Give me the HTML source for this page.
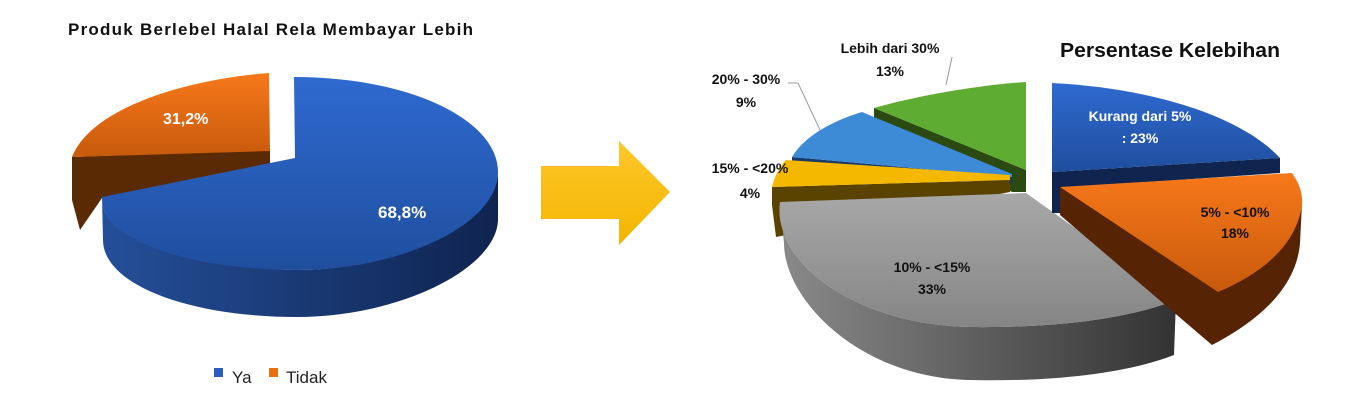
<!DOCTYPE html>
<html><head><meta charset="utf-8"><style>
html,body{margin:0;padding:0;background:#fff;overflow:hidden;}
svg{display:block;font-family:"Liberation Sans",sans-serif;}
</style></head><body>
<svg width="1365" height="416" viewBox="0 0 1365 416" xmlns="http://www.w3.org/2000/svg">
<defs>
<linearGradient id="bt" x1="0" y1="0" x2="0" y2="1"><stop offset="0" stop-color="#2f6ad0"/><stop offset="1" stop-color="#1f4e9e"/></linearGradient>
<linearGradient id="bs" x1="0" y1="0" x2="1" y2="0"><stop offset="0" stop-color="#244f99"/><stop offset="1" stop-color="#0f2450"/></linearGradient>
<linearGradient id="ot" x1="0" y1="0" x2="0" y2="1"><stop offset="0" stop-color="#f7781a"/><stop offset="1" stop-color="#c85a0c"/></linearGradient>
<linearGradient id="gt" x1="0" y1="0" x2="0" y2="1"><stop offset="0" stop-color="#a8a8a8"/><stop offset="1" stop-color="#858585"/></linearGradient>
<linearGradient id="gs" x1="0" y1="0" x2="1" y2="0"><stop offset="0" stop-color="#8a8a8a"/><stop offset="1" stop-color="#333"/></linearGradient>
<linearGradient id="ar" x1="0" y1="0" x2="0" y2="1"><stop offset="0" stop-color="#ffc72b"/><stop offset="1" stop-color="#f2b600"/></linearGradient>
</defs>

<text x="68" y="35" font-size="17" font-weight="bold" fill="#111" textLength="405" lengthAdjust="spacing">Produk Berlebel Halal  Rela Membayar Lebih</text>

<!-- left orange -->
<path d="M72,157 L270,150 L270,164 L102,198 L80,230 L72,200 Z" fill="#5a2a05"/>
<path d="M270,151 L269,73 C180,80 90,110 72,157 Z" fill="url(#ot)"/>
<!-- left blue -->
<path d="M102,197 C100,240 190,268 297,270 C400,270 498,220 498,172 L498,219 C498,268 400,317 297,317 C190,317 103,285 103,240 Z" fill="url(#bs)"/>
<path d="M295,158 L294,77 C410,77 498,120 498,172 C498,225 400,270 297,270 C190,270 100,240 102,197 Z" fill="url(#bt)"/>
<text x="163" y="124" font-size="16" font-weight="bold" fill="#fff">31,2%</text>
<text x="378" y="218" font-size="17" font-weight="bold" fill="#fff">68,8%</text>

<rect x="214" y="368" width="9" height="9" fill="#2a5fc0"/>
<text x="232" y="383" font-size="17" fill="#222">Ya</text>
<rect x="269" y="368" width="9" height="9" fill="#e8700f"/>
<text x="286" y="383" font-size="17" fill="#222">Tidak</text>

<!-- arrow -->
<path d="M541,166 L619,166 L619,141 L670,192 L619,245 L619,219 L541,219 Z" fill="url(#ar)"/>

<!-- right chart -->
<text x="1060" y="57" font-size="20" font-weight="bold" fill="#111" textLength="220" lengthAdjust="spacingAndGlyphs">Persentase Kelebihan</text>
<!-- green -->
<path d="M874,108 L1026,170 L1026,192 L1012,192 L874,118 Z" fill="#2a4a12"/>
<path d="M874,108 C920,95 980,85 1026,82 L1026,170 Z" fill="#5fac32"/>
<!-- light blue -->
<path d="M792,157 L1012,177 L1012,184 L792,162 Z" fill="#173a66"/>
<path d="M862,112 L1012,174 L1012,177 L792,157 C805,135 835,120 862,112 Z" fill="#3d8ad6"/>
<!-- yellow -->
<path d="M772,187 L1010,180 L1010,192 L776,237 L772,205 Z" fill="#5a4200"/>
<path d="M786,160 L1010,175 L1010,180 L772,187 C775,175 780,166 786,160 Z" fill="#f4b800"/>
<!-- gray -->
<path d="M780,202 C772,265 860,325 970,327 C1060,328 1130,318 1176,300 L1174,355 C1130,372 1060,382 970,380 C860,378 784,300 784,243 Z" fill="url(#gs)"/>
<path d="M1026,193 L780,202 C772,265 860,325 970,327 C1060,328 1130,318 1176,300 Z" fill="url(#gt)"/>
<!-- blue -->
<path d="M1052,172 L1280,158 L1280,173 L1060,188 L1060,213 L1052,213 Z" fill="#0f2550"/>
<path d="M1052,83 C1150,88 1240,115 1280,158 L1052,172 Z" fill="url(#bt)"/>
<!-- orange -->
<path d="M1060,187 L1060,215 L1212,345 C1270,315 1297,280 1300,243 L1302,203 Z" fill="#562404"/>
<path d="M1060,187 L1292,173 C1299,183 1303,193 1302,205 C1297,240 1270,270 1218,292 Z" fill="url(#ot)"/>

<g font-size="14" font-weight="bold" text-anchor="middle">
<text x="890" y="53" fill="#111">Lebih dari 30%</text>
<text x="890" y="76" fill="#111">13%</text>
<text x="746" y="84" fill="#111">20% - 30%</text>
<text x="746" y="107" fill="#111">9%</text>
<text x="750" y="173" fill="#111">15% - &lt;20%</text>
<text x="750" y="198" fill="#111">4%</text>
<text x="1140" y="121" fill="#fff">Kurang dari 5%</text>
<text x="1140" y="143" fill="#fff">: 23%</text>
<text x="1235" y="217" fill="#111">5% - &lt;10%</text>
<text x="1235" y="238" fill="#111">18%</text>
<text x="932" y="272" fill="#111">10% - &lt;15%</text>
<text x="932" y="294" fill="#111">33%</text>
</g>
<path d="M952,57 L946,85" stroke="#999" fill="none"/>
<path d="M788,83 L798,83 L820,130" stroke="#999" fill="none"/>
</svg>
</body></html>
